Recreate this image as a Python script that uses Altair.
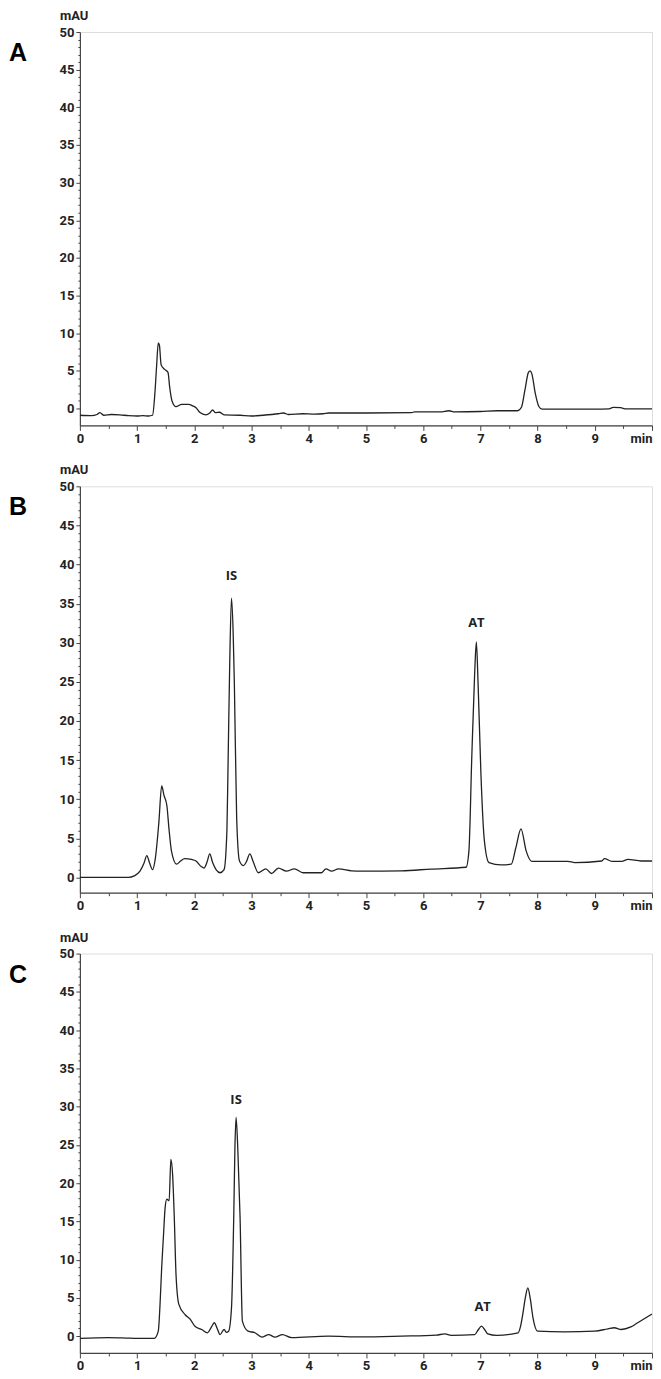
import altair as alt
import pandas as pd

# ---------------- data ----------------
A_time = [0.0, 0.2, 0.3, 0.35, 0.42, 0.55, 0.7, 0.85, 1.0, 1.1, 1.2, 1.27, 1.31, 1.34, 1.37, 1.39,
          1.42, 1.48, 1.54, 1.57, 1.61, 1.68, 1.78, 1.9, 1.97, 2.03, 2.1, 2.2, 2.27, 2.32, 2.37,
          2.44, 2.52, 2.8, 3.0, 3.2, 3.47, 3.56, 3.64, 3.9, 4.1, 4.25, 4.35, 5.0, 5.8, 5.85, 6.3,
          6.45, 6.55, 7.0, 7.3, 7.65, 7.72, 7.78, 7.84, 7.87, 7.9, 7.96, 8.02, 8.08, 8.5, 9.0,
          9.25, 9.32, 9.45, 9.55, 10.0]
A_mau = [-0.9, -0.95, -0.8, -0.55, -0.9, -0.8, -0.85, -0.95, -1.0, -0.95, -1.0, -0.9, 1.9, 5.5, 8.7, 8.4,
         5.8, 5.2, 4.8, 2.8, 1.0, 0.25, 0.55, 0.55, 0.35, 0.1, -0.55, -0.85, -0.6, -0.2, -0.55,
         -0.5, -0.85, -0.9, -1.0, -0.9, -0.7, -0.6, -0.8, -0.7, -0.75, -0.7, -0.6, -0.6, -0.55, -0.45, -0.45,
         -0.3, -0.45, -0.4, -0.3, -0.3, 0.2, 2.5, 4.8, 5.0, 4.6, 2.0, 0.3, -0.1, -0.1, -0.1,
         -0.05, 0.15, 0.1, -0.05, -0.05]

B_time = [0.0, 0.85, 0.95, 1.05, 1.12, 1.17, 1.22, 1.27, 1.32, 1.38, 1.43, 1.47, 1.52, 1.56, 1.6,
          1.69, 1.76, 1.83, 1.95, 2.03, 2.12, 2.17, 2.22, 2.27, 2.32, 2.38, 2.45, 2.52, 2.57, 2.59,
          2.62, 2.65, 2.68, 2.7, 2.74, 2.79, 2.86, 2.91, 2.97, 3.03, 3.12, 3.25, 3.35, 3.47, 3.61,
          3.75, 3.9, 4.22, 4.3, 4.4, 4.52, 4.75, 4.92, 5.62, 6.14, 6.75, 6.8, 6.85, 6.9, 6.93, 6.96,
          7.01, 7.07, 7.15, 7.36, 7.54, 7.62, 7.71, 7.8, 7.9, 8.53, 8.65, 9.12, 9.17, 9.3, 9.47,
          9.58, 9.81, 10.0]
B_mau = [0.0, 0.0, 0.2, 0.8, 1.8, 2.8, 1.8, 1.0, 2.5, 7.0, 11.7, 10.5, 9.2, 6.0, 3.4,
         1.7, 2.1, 2.4, 2.3, 2.1, 1.4, 1.2, 1.9, 3.0, 1.9, 1.0, 0.6, 1.0, 6.0, 14.5,
         27.8, 35.7, 31.0, 24.8, 7.7, 2.1, 1.5, 2.0, 3.0, 2.0, 0.6, 1.1, 0.5, 1.2, 0.8,
         1.1, 0.6, 0.6, 1.1, 0.8, 1.1, 0.85, 0.8, 0.85, 1.07, 1.3, 3.4, 15.4, 26.0, 30.1, 24.8,
         13.2, 4.7, 1.9, 1.6, 1.7, 3.8, 6.2, 3.4, 2.05, 2.05, 1.9, 2.1, 2.4, 2.05, 2.05,
         2.3, 2.1, 2.1]

C_time = [0.0, 0.5, 0.8, 1.0, 1.3, 1.37, 1.4, 1.43, 1.46, 1.49, 1.52, 1.56, 1.59, 1.62, 1.65,
          1.68, 1.73, 1.84, 1.93, 2.01, 2.13, 2.23, 2.3, 2.35, 2.4, 2.45, 2.52, 2.56, 2.6, 2.65,
          2.69, 2.71, 2.73, 2.76, 2.8, 2.84, 2.94, 3.06, 3.18, 3.3, 3.41, 3.54, 3.7, 4.34, 4.92,
          5.62, 6.23, 6.38, 6.49, 6.9, 6.96, 7.02, 7.08, 7.13, 7.28, 7.66, 7.7, 7.74, 7.79, 7.83,
          7.87, 7.92, 8.0, 8.47, 9.0, 9.23, 9.34, 9.46, 9.63, 9.75, 10.0]
C_mau = [-0.3, -0.2, -0.25, -0.3, -0.3, 0.65, 4.0, 9.0, 13.0, 16.8, 17.9, 17.7, 23.1, 21.2, 15.5,
         8.1, 4.15, 2.8, 2.2, 1.3, 0.87, 0.44, 1.2, 1.75, 1.0, 0.2, 0.87, 0.5, 0.65, 3.7,
         15.9, 24.7, 28.6, 24.5, 15.5, 1.97, 0.65, 0.44, -0.13, 0.2, -0.13, 0.2, -0.2, 0.0, -0.1,
         0.0, 0.13, 0.3, 0.1, 0.2, 0.8, 1.3, 0.8, 0.3, 0.1, 0.44, 1.2, 2.8, 5.2, 6.3,
         5.0, 2.4, 0.65, 0.57, 0.65, 0.96, 1.1, 0.87, 1.2, 1.75, 2.9]

# peak annotations
B_labels = ["IS", "AT"]
B_label_t = [2.65, 6.93]
B_label_v = [38.5, 32.5]
C_labels = ["IS", "AT"]
C_label_t = [2.73, 7.04]
C_label_v = [30.8, 3.8]

# axes
X_TICKS = [i * 0.5 for i in range(21)]
Y_TICKS = list(range(0, 51))

AX_FONT = "Liberation Sans Narrow, Arial Narrow, Roboto, sans-serif"
INK = "#222222"
FRAME = "#444444"


def make_axes():
    x_axis = alt.Axis(
        values=X_TICKS,
        labelExpr="datum.value == 10 ? 'min' : (datum.value % 1 === 0 ? format(datum.value, 'd') : '')",
        labelAlign={"condition": {"test": "datum.value == 10", "value": "right"}, "value": "center"},
        tickSize={"condition": {"test": "datum.value % 1 === 0", "value": 5}, "value": 3},
        labelFont=AX_FONT, labelFontSize=13, labelFontWeight="bold", labelColor=INK,
        labelPadding=2, labelOverlap=False, labelFlush=False,
        domainColor=FRAME, tickColor=FRAME, domainWidth=1.2, grid=False, title=None,
    )
    y_axis = alt.Axis(
        values=Y_TICKS,
        labelExpr="datum.value % 5 === 0 ? format(datum.value, 'd') : ''",
        tickSize={"condition": {"test": "datum.value % 5 === 0", "value": 4}, "value": 2},
        labelFont=AX_FONT, labelFontSize=13, labelFontWeight="bold", labelColor=INK,
        labelPadding=2, labelOverlap=False, labelFlush=False,
        domainColor=FRAME, tickColor=FRAME, domainWidth=1.2, grid=False, title=None,
    )
    return x_axis, y_axis


def panel(letter, times, values, labels, label_t, label_v, height, ymin):
    df = pd.DataFrame({"t": times, "v": values})
    xs = alt.Scale(domain=[0, 10], nice=False, zero=False)
    ys = alt.Scale(domain=[ymin, 50], nice=False, zero=False)
    x_axis, y_axis = make_axes()

    line = alt.Chart(df).mark_line(
        color=INK, strokeWidth=1.3, interpolate="monotone", clip=True
    ).encode(
        x=alt.X("t:Q", scale=xs, axis=x_axis),
        y=alt.Y("v:Q", scale=ys, axis=y_axis),
    )

    layers = [line]

    if labels:
        ann = pd.DataFrame({"t": label_t, "v": label_v, "lab": labels})
        layers.append(
            alt.Chart(ann).mark_text(
                font="Open Sans", fontSize=13, fontWeight="bold", color=INK
            ).encode(
                x=alt.X("t:Q", scale=xs, axis=x_axis),
                y=alt.Y("v:Q", scale=ys, axis=y_axis),
                text="lab:N",
            )
        )

    one = pd.DataFrame({"k": [0]})
    layers.append(
        alt.Chart(one).mark_text(
            font=AX_FONT, fontSize=13, fontWeight="bold", color=INK, align="left", baseline="middle"
        ).encode(x=alt.value(-20), y=alt.value(-16), text=alt.value("mAU"))
    )
    layers.append(
        alt.Chart(one).mark_text(
            font="Liberation Sans, Arial, sans-serif", fontSize=25, fontWeight="bold", color="#000",
            align="left", baseline="middle"
        ).encode(x=alt.value(-71), y=alt.value(21), text=alt.value(letter))
    )

    return alt.layer(*layers).properties(width=573, height=height)


pA = panel("A", A_time, A_mau, [], [], [], 394, -2.25)
pB = panel("B", B_time, B_mau, B_labels, B_label_t, B_label_v, 407, -1.95)
pC = panel("C", C_time, C_mau, C_labels, C_label_t, C_label_v, 400, -2.2)

chart = alt.vconcat(pA, pB, pC, spacing=17).properties(padding=0).configure_view(
    stroke=FRAME, strokeWidth=1.2
).configure(background="white")

chart.save("out.html", embed_options={"renderer": "svg", "actions": False})
